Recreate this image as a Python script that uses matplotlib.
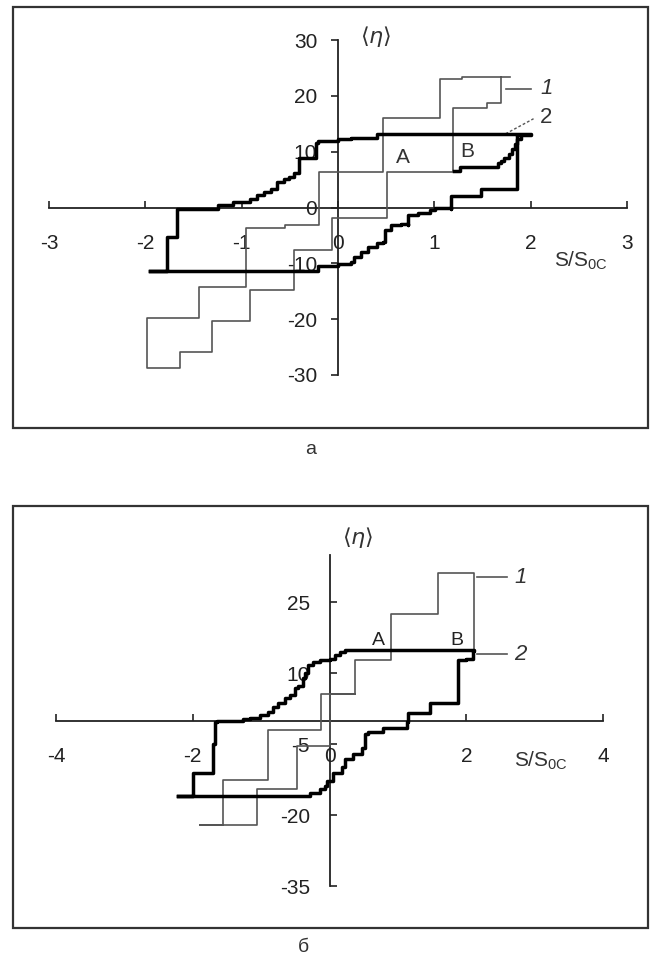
import matplotlib
matplotlib.use("Agg")
import matplotlib.pyplot as plt
from matplotlib.patches import Rectangle

plt.rcParams['font.family'] = ['Liberation Sans', 'DejaVu Sans']
plt.rcParams['axes.unicode_minus'] = False

# ---------------- data: panel a ----------------
a_xticks = [-3, -2, -1, 0, 1, 2, 3]
a_yticks = [-30, -20, -10, 0, 10, 20, 30]

# curve 1 (thin), corner points
a1_x = [1.79, 1.29, 1.29, 1.06, 1.06, 0.47, 0.47, -0.20, -0.20, -0.55, -0.96, -0.96,
        -1.44, -1.44, -1.98, -1.98,
        -1.64, -1.64, -1.31, -1.31, -0.91, -0.91, -0.46, -0.46, -0.06, -0.06,
        0.51, 0.51, 1.19, 1.19, 1.55, 1.55, 1.69, 1.69]
a1_y = [23.4, 23.4, 23.0, 23.0, 16.1, 16.1, 6.4, 6.4, -3.2, -3.6, -4.2, -14.3,
        -14.3, -19.8, -19.8, -28.8,
        -28.8, -25.9, -25.9, -20.4, -20.4, -14.8, -14.8, -7.7, -7.7, -1.8,
        -1.8, 6.4, 6.4, 17.9, 17.9, 18.8, 18.8, 23.4]

# curve 2 (thick) hysteresis loop
a2_x = [-1.95, -0.70, -0.46, -0.21, 0.00, 0.13, 0.17, 0.24, 0.31, 0.41, 0.47, 0.49,
        0.55, 0.65, 0.73, 0.73, 0.83, 0.96, 1.01, 1.17, 1.17, 1.48, 1.48, 1.86, 1.86,
        2.00,
        0.65, 0.41, 0.13, 0.00, -0.21, -0.23, -0.39, -0.41, -0.46, -0.51, -0.56,
        -0.63, -0.70, -0.77, -0.84, -0.91, -1.09, -1.25, -1.67, -1.67, -1.77, -1.77,
        -1.95]
a2_y = [-11.3, -11.3, -11.3, -10.5, -10.2, -9.8, -8.9, -8.0, -7.1, -6.4, -6.2, -4.1,
        -3.2, -2.9, -3.2, -1.4, -0.9, -0.5, 0.0, -0.2, 2.1, 2.1, 3.4, 3.4, 13.0,
        13.2,
        13.2, 12.5, 12.3, 12.0, 11.6, 8.9, 8.8, 6.2, 5.4, 5.1, 4.5,
        3.4, 2.8, 2.2, 1.6, 0.9, 0.4, -0.2, -0.5, -5.3, -5.3, -11.3,
        -11.3]
# curve 2 inner branch from point B
a2b_x = [1.20, 1.27, 1.66, 1.69, 1.72, 1.77, 1.81, 1.84, 1.86, 1.90]
a2b_y = [6.6, 7.3, 7.9, 8.4, 8.9, 9.6, 10.5, 11.4, 12.3, 12.9]

# ---------------- data: panel б ----------------
b_xticks = [-4, -2, 0, 2, 4]
b_yticks = [-35, -20, -5, 10, 25]

b1_x = [2.11, 2.11, 1.58, 1.58, 0.90, 0.90, 0.37, 0.37, -0.12, -0.12, -0.90, -0.90,
        -1.56, -1.56, -1.89,
        -1.06, -1.06, -0.47, -0.47, 0.00, 0.00, 0.37]
b1_y = [14.8, 31.1, 31.1, 22.6, 22.6, 12.9, 12.9, 5.7, 5.7, -2.1, -2.1, -12.5,
        -12.5, -22.2, -22.2,
        -22.2, -14.4, -14.4, -5.3, -5.3, 5.7, 5.7]

b2_x = [-2.21, -0.43, -0.28, -0.14, -0.07, -0.04, 0.05, 0.18, 0.23, 0.34, 0.47, 0.52,
        0.56, 0.76, 0.78, 1.13, 1.15, 1.47, 1.47, 1.88, 1.88, 2.00, 2.10, 2.10, 2.12,
        0.37, 0.22, 0.15, 0.08, 0.00, -0.14, -0.24, -0.31, -0.36, -0.39, -0.46, -0.50,
        -0.58, -0.65, -0.75, -0.82, -0.90, -1.01, -1.16, -1.26, -1.64, -1.67, -1.71,
        -1.71, -1.99, -1.99, -2.21]
b2_y = [-15.9, -15.9, -15.3, -14.4, -13.8, -12.7, -11.0, -9.9, -8.1, -7.0, -5.9, -2.8,
        -2.5, -2.5, -1.5, -0.4, 1.6, 1.9, 3.6, 3.6, 12.7, 13.1, 13.4, 14.8, 15.0,
        15.0, 14.4, 13.8, 13.1, 12.7, 12.3, 11.7, 10.0, 8.9, 7.4, 6.8, 5.3,
        4.7, 3.6, 2.8, 1.7, 1.1, 0.6, 0.4, 0.0, -0.4, -4.9, -5.3,
        -11.2, -11.7, -15.9, -15.9]

W, H = 652, 961
fig = plt.figure(figsize=(W / 100, H / 100), dpi=100)

def fbox(x0, y0, x1, y1):
    return [x0 / W, 1 - y1 / H, (x1 - x0) / W, (y1 - y0) / H]

# outer frames
for (x0, y0, x1, y1) in [(13, 7, 648, 428), (13, 506, 648, 928)]:
    fig.add_artist(Rectangle((x0 / W, 1 - y1 / H), (x1 - x0) / W, (y1 - y0) / H,
                             transform=fig.transFigure, fill=False,
                             edgecolor='#333333', linewidth=1.6))

thin_c = '#555555'
axis_c = '#222222'
THICK = 2.5
THIN = 1.2

def setup(ax, xlim, ylim, xt, yt, ydir, ypad):
    ax.set_xlim(*xlim)
    ax.set_ylim(*ylim)
    for s in ['top', 'right']:
        ax.spines[s].set_visible(False)
    ax.spines['left'].set_position(('data', 0))
    ax.spines['bottom'].set_position(('data', 0))
    for s in ['left', 'bottom']:
        ax.spines[s].set_linewidth(1.3)
        ax.spines[s].set_color(axis_c)
    ax.set_xticks(xt)
    ax.set_yticks(yt)
    ax.tick_params(axis='x', direction='in', length=5, width=1.2, pad=19,
                   labelsize=15, colors=axis_c, labelcolor='#222222')
    ax.tick_params(axis='y', direction=ydir, length=5, width=1.2, pad=ypad,
                   labelsize=15, colors=axis_c, labelcolor='#222222')
    ax.patch.set_alpha(0)

# ---------------- panel a ----------------
ax1 = fig.add_axes(fbox(49, 40, 627, 375))
setup(ax1, (-3, 3), (-30, 30), a_xticks, a_yticks, 'out', 10)
ax1.plot(a1_x, a1_y, color=thin_c, lw=THIN, drawstyle='steps-post', zorder=3)
ax1.plot(a2_x, a2_y, color='black', lw=THICK, drawstyle='steps-post', zorder=4)
ax1.plot(a2b_x, a2b_y, color='black', lw=THICK, drawstyle='steps-post', zorder=4)
ax1.plot([1.74, 2.00], [21.3, 21.3], color=thin_c, lw=1.2)
ax1.plot([1.74, 2.03], [13.2, 15.9], color=thin_c, lw=1.0, ls=(0, (2, 1.5)))
ax1.text(2.10, 21.3, '1', fontsize=16, style='italic', va='center', ha='left', color='#333333')
ax1.text(2.10, 16.2, '2', fontsize=16, va='center', ha='left', color='#333333')
ax1.text(0.67, 9.0, 'A', fontsize=15, ha='center', va='center', color='#333333')
ax1.text(1.34, 10.0, 'B', fontsize=15, ha='center', va='center', color='#333333')
ax1.text(0.39, 30.6, r'$\langle\eta\rangle$', fontsize=16, ha='center', va='center',
         color='#333333', clip_on=False)
ax1.text(2.52, -9.5, r'S/S$_{\mathregular{0C}}$', fontsize=15, ha='center', va='center',
         color='#333333')
fig.text(311 / W, 1 - 450 / H, 'a', fontsize=14, ha='center', va='center', color='#333333')

# ---------------- panel б ----------------
ax2 = fig.add_axes(fbox(56, 555, 603, 886))
setup(ax2, (-4, 4), (-35, 35), b_xticks, b_yticks, 'in', 14)
ax2.plot(b1_x, b1_y, color=thin_c, lw=THIN, drawstyle='steps-post', zorder=3)
ax2.plot(b2_x, b2_y, color='black', lw=THICK, drawstyle='steps-post', zorder=4)
ax2.plot([2.15, 2.59], [30.3, 30.3], color=thin_c, lw=1.2)
ax2.plot([2.15, 2.59], [14.0, 14.0], color=thin_c, lw=1.2)
ax2.text(2.70, 30.3, '1', fontsize=16, style='italic', va='center', ha='left', color='#333333')
ax2.text(2.70, 14.0, '2', fontsize=16, style='italic', va='center', ha='left', color='#333333')
ax2.text(0.72, 17.0, 'A', fontsize=14, ha='center', va='center', color='#222222')
ax2.text(1.86, 17.0, 'B', fontsize=14, ha='center', va='center', color='#222222')
ax2.text(0.42, 38.8, r'$\langle\eta\rangle$', fontsize=16, ha='center', va='center',
         color='#333333', clip_on=False)
ax2.text(3.10, -8.5, r'S/S$_{\mathregular{0C}}$', fontsize=15, ha='center', va='center',
         color='#333333')
fig.text(303 / W, 1 - 948 / H, 'б', fontsize=14, ha='center', va='center', color='#333333')

fig.savefig('out.png', dpi=100)
